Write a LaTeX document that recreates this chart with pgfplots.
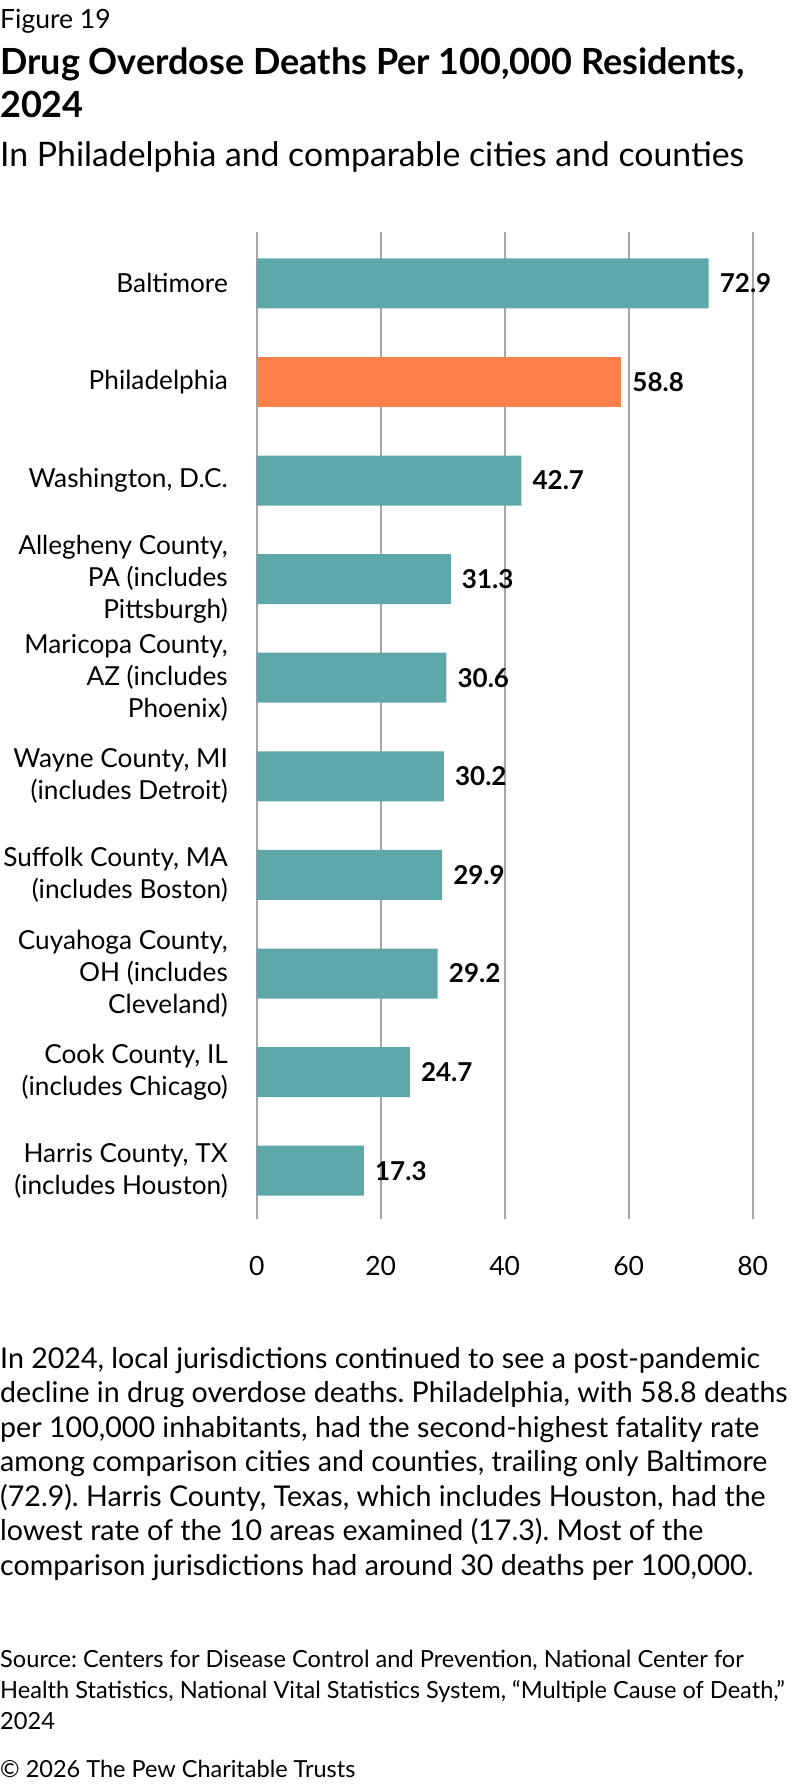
\documentclass[border=0pt]{standalone}
\usepackage{fontspec}
\setmainfont{Lato}
\usepackage{pgfplots}
\pgfplotsset{compat=1.18}
\definecolor{barteal}{HTML}{5FA8A9}
\definecolor{barorange}{HTML}{FF7F4A}
\definecolor{gridgray}{HTML}{A6A6A6}
\frenchspacing
\begin{document}
\begin{tikzpicture}
\path[use as bounding box] (0pt,0pt) rectangle (792pt,-1786pt);
% header
\node[anchor=base west, inner sep=0pt, font=\fontsize{26.5}{32}\selectfont] at (0pt,-28pt) {Figure 19};
\node[anchor=base west, inner sep=0pt, font=\fontsize{36}{43}\selectfont\bfseries] at (0pt,-74pt) {Drug Overdose Deaths Per 100,000 Residents,};
\node[anchor=base west, inner sep=0pt, font=\fontsize{36}{43}\selectfont\bfseries] at (0pt,-117pt) {2024};
\node[anchor=base west, inner sep=0pt, font=\fontsize{33.8}{40}\selectfont] at (0pt,-166pt) {In Philadelphia and comparable cities and counties};
\begin{axis}[
  at={(256.7pt,-1219pt)}, anchor=south west,
  scale only axis, width=496pt, height=987pt,
  xbar, bar width=50pt, bar shift=0pt,
  xmin=0, xmax=80, ymin=-0.52, ymax=9.49, y dir=reverse,
  xtick={0,20,40,60,80},
  ytick={0,1,2,3,4,5,6,7,8,9},
  yticklabels={{Baltimore},{Philadelphia},{Washington, D.C.},{Allegheny County,\\PA (includes\\Pittsburgh)},{Maricopa County,\\AZ (includes\\Phoenix)},{Wayne County, MI\\(includes Detroit)},{Suffolk County, MA\\(includes Boston)},{Cuyahoga County,\\OH (includes\\Cleveland)},{Cook County, IL\\(includes Chicago)},{Harris County, TX\\(includes Houston)}},
  axis line style={draw=none},
  major tick length=0pt,
  xmajorgrids, major grid style={gridgray, line width=2pt},
  /pgf/number format/assume math mode=true,
  xticklabel style={anchor=center, inner sep=0pt, yshift=-47pt, font=\fontsize{26.5}{32}\selectfont},
  yticklabel style={anchor=east, inner sep=0pt, xshift=-28.7pt, align=right, font=\fontsize{26.2}{32}\selectfont},
  point meta=x,
  nodes near coords={\pgfmathprintnumber[assume math mode=true, fixed, fixed zerofill, precision=1]{\pgfplotspointmeta}},
  nodes near coords style={anchor=west, inner sep=0pt, xshift=11pt, font=\fontsize{26}{30}\selectfont\bfseries, black},
  clip=false,
]
\addplot[fill=barteal, draw=none] coordinates {(72.9,0) (42.7,2) (31.3,3) (30.6,4) (30.2,5) (29.9,6) (29.2,7) (24.7,8) (17.3,9)};
\addplot[fill=barorange, draw=none] coordinates {(58.8,1)};
\end{axis}
% paragraph
\begin{scope}[every node/.style={anchor=base west, inner sep=0pt, font=\fontsize{28.6}{34}\selectfont}]
\node at (0pt,-1368pt) {In 2024, local jurisdictions continued to see a post-pandemic};
\node at (0pt,-1402.5pt) {decline in drug overdose deaths. Philadelphia, with 58.8 deaths};
\node at (0pt,-1437pt) {per 100,000 inhabitants, had the second-highest fatality rate};
\node at (0pt,-1471.5pt) {among comparison cities and counties, trailing only Baltimore};
\node at (0pt,-1506pt) {(72.9). Harris County, Texas, which includes Houston, had the};
\node at (0pt,-1540.5pt) {lowest rate of the 10 areas examined (17.3). Most of the};
\node at (0pt,-1575pt) {comparison jurisdictions had around 30 deaths per 100,000.};
\end{scope}
\begin{scope}[every node/.style={anchor=base west, inner sep=0pt, font=\fontsize{23.6}{28}\selectfont}]
\node at (0pt,-1667pt) {Source: Centers for Disease Control and Prevention, National Center for};
\node at (0pt,-1698pt) {Health Statistics, National Vital Statistics System, “Multiple Cause of Death,”};
\node at (0pt,-1729pt) {2024};
\end{scope}
\node[anchor=base west, inner sep=0pt, font=\fontsize{23.5}{28}\selectfont] at (0pt,-1777pt) {© 2026 The Pew Charitable Trusts};
\end{tikzpicture}
\end{document}
